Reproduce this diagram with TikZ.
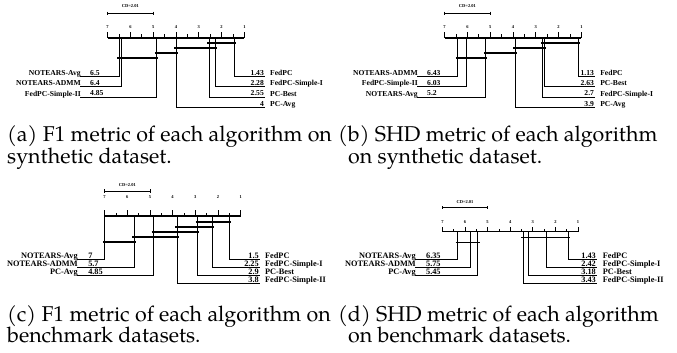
\documentclass[tikz,border=0pt]{standalone}
\usepackage{fontspec}
\newfontfamily\cdfont{Liberation Serif}
\newfontfamily\capfont{TeX Gyre Pagella}

\begin{document}
\begin{tikzpicture}[x=1pt,y=-1pt,
  axisln/.style={line width=1.1pt},
  tickln/.style={line width=0.7pt},
  clique/.style={line width=1.6pt},
  cdbar/.style={line width=1pt},
  leg/.style={line width=0.7pt},
  ticklab/.style={font=\cdfont\bfseries\fontsize{4.5}{5}\selectfont, inner sep=0pt},
  algo/.style={font=\cdfont\bfseries\fontsize{7.6}{8}\selectfont, inner sep=0pt},
  algob/.style={font=\cdfont\bfseries\fontsize{8.3}{9}\selectfont, inner sep=0pt},
  capline/.style={font=\capfont\fontsize{21.4}{22}\selectfont, inner sep=0pt, anchor=base west}]
\useasboundingbox (0,0) rectangle (677,353);

%(a) F1, synthetic
\begin{scope}[xshift=267.2pt, x=-22.8pt]
\draw[cdbar] (7,13.3) -- (4.99,13.3);
\draw[cdbar] (7,11.6) -- (7,15) (4.99,11.6) -- (4.99,15);
\node[ticklab] (a-cd) at (6,6.3) {CD=2.01};
\draw[axisln] (7,38) -- (1,38);
\draw[tickln] (7,38)--(7,32) (6,38)--(6,32) (5,38)--(5,32) (4,38)--(4,32) (3,38)--(3,32) (2,38)--(2,32) (1,38)--(1,32);
\draw[tickln] (6.5,38)--(6.5,34.5) (5.5,38)--(5.5,34.5) (4.5,38)--(4.5,34.5) (3.5,38)--(3.5,34.5) (2.5,38)--(2.5,34.5) (1.5,38)--(1.5,34.5);
\node[ticklab] (a-t7) at (7,26.7) {7};
\node[ticklab] (a-t6) at (6,26.7) {6};
\node[ticklab] (a-t5) at (5,26.7) {5};
\node[ticklab] (a-t4) at (4,26.7) {4};
\node[ticklab] (a-t3) at (3,26.7) {3};
\node[ticklab] (a-t2) at (2,26.7) {2};
\node[ticklab] (a-t1) at (1,26.7) {1};
% cliques
\draw[clique] (2.63,42.8) -- (1.35,42.8);
\draw[clique] (4.08,48.2) -- (2.20,48.2);
\draw[clique] (4.93,53) -- (3.92,53);
\draw[clique] (6.58,58.3) -- (4.77,58.3);
% left
\draw[leg] (6.5,38) |- (8.21,76.5);
\draw[leg] (6.4,38) |- (8.21,86.8);
\draw[leg] (4.85,38) |- (8.21,97);
\node[algo, anchor=base east] (a-l1) at (8.17,75.6) {NOTEARS-Avg};
\node[algo, anchor=base east] (a-l2) at (8.17,85.9) {NOTEARS-ADMM};
\node[algo, anchor=base east] (a-l3) at (8.17,96.1) {FedPC-Simple-II};
\node[algo, anchor=base west] (a-v1) at (7.77,75.3) {6.5};
\node[algo, anchor=base west] (a-v2) at (7.77,85.6) {6.4};
\node[algo, anchor=base west] (a-v3) at (7.77,95.8) {4.85};
% right
\draw[leg] (1.43,38) |- (0.1,76.5);
\draw[leg] (2.28,38) |- (0.1,86.8);
\draw[leg] (2.55,38) |- (0.1,97);
\draw[leg] (4,38) |- (0.1,107.3);
\node[algo, anchor=base east] (a-v4) at (0.14,75.3) {1.43};
\node[algo, anchor=base east] (a-v5) at (0.14,85.6) {2.28};
\node[algo, anchor=base east] (a-v6) at (0.14,95.8) {2.55};
\node[algo, anchor=base east] (a-v7) at (0.14,106.1) {4};
\node[algo, anchor=base west] (a-r1) at (-0.12,75.6) {FedPC};
\node[algo, anchor=base west] (a-r2) at (-0.12,85.9) {FedPC-Simple-I};
\node[algo, anchor=base west] (a-r3) at (-0.12,96.1) {PC-Best};
\node[algo, anchor=base west] (a-r4) at (-0.12,106.4) {PC-Avg};
\end{scope}

%(b) SHD, synthetic
\begin{scope}[xshift=604.2pt, x=-22.8pt]
\draw[cdbar] (7,13.3) -- (4.99,13.3);
\draw[cdbar] (7,11.6) -- (7,15) (4.99,11.6) -- (4.99,15);
\node[ticklab] (b-cd) at (6,6.3) {CD=2.01};
\draw[axisln] (7,38) -- (1,38);
\draw[tickln] (7,38)--(7,32) (6,38)--(6,32) (5,38)--(5,32) (4,38)--(4,32) (3,38)--(3,32) (2,38)--(2,32) (1,38)--(1,32);
\draw[tickln] (6.5,38)--(6.5,34.5) (5.5,38)--(5.5,34.5) (4.5,38)--(4.5,34.5) (3.5,38)--(3.5,34.5) (2.5,38)--(2.5,34.5) (1.5,38)--(1.5,34.5);
\node[ticklab] (b-t7) at (7,26.7) {7};
\node[ticklab] (b-t6) at (6,26.7) {6};
\node[ticklab] (b-t5) at (5,26.7) {5};
\node[ticklab] (b-t4) at (4,26.7) {4};
\node[ticklab] (b-t3) at (3,26.7) {3};
\node[ticklab] (b-t2) at (2,26.7) {2};
\node[ticklab] (b-t1) at (1,26.7) {1};
% cliques
\draw[clique] (2.78,42.8) -- (1.05,42.8);
\draw[clique] (3.98,48.2) -- (2.55,48.2);
\draw[clique] (5.28,53) -- (3.82,53);
\draw[clique] (6.51,58.3) -- (5.12,58.3);
% left
\draw[leg] (6.43,38) |- (8.21,76.5);
\draw[leg] (6.03,38) |- (8.21,86.8);
\draw[leg] (5.2,38) |- (8.21,97);
\node[algo, anchor=base east] (b-l1) at (8.17,75.6) {NOTEARS-ADMM};
\node[algo, anchor=base east] (b-l2) at (8.17,85.9) {FedPC-Simple-II};
\node[algo, anchor=base east] (b-l3) at (8.17,96.1) {NOTEARS-Avg};
\node[algo, anchor=base west] (b-v1) at (7.77,75.3) {6.43};
\node[algo, anchor=base west] (b-v2) at (7.77,85.6) {6.03};
\node[algo, anchor=base west] (b-v3) at (7.77,95.8) {5.2};
% right
\draw[leg] (1.13,38) |- (0.4,76.5);
\draw[leg] (2.63,38) |- (0.4,86.8);
\draw[leg] (2.7,38) |- (0.4,97);
\draw[leg] (3.9,38) |- (0.4,107.3);
\node[algo, anchor=base east] (b-v4) at (0.44,75.3) {1.13};
\node[algo, anchor=base east] (b-v5) at (0.44,85.6) {2.63};
\node[algo, anchor=base east] (b-v6) at (0.44,95.8) {2.7};
\node[algo, anchor=base east] (b-v7) at (0.44,106.1) {3.9};
\node[algo, anchor=base west] (b-r1) at (0.18,75.6) {FedPC};
\node[algo, anchor=base west] (b-r2) at (0.18,85.9) {PC-Best};
\node[algo, anchor=base west] (b-r3) at (0.18,96.1) {FedPC-Simple-I};
\node[algo, anchor=base west] (b-r4) at (0.18,106.4) {PC-Avg};
\end{scope}

%(c) F1, benchmark
\begin{scope}[xshift=263.3pt, x=-22.67pt]
\draw[cdbar] (7,191) -- (4.99,191);
\draw[cdbar] (7,189.3) -- (7,192.7) (4.99,189.3) -- (4.99,192.7);
\node[ticklab] (c-cd) at (6,185) {CD=2.01};
\draw[axisln] (7,216) -- (1,216);
\draw[tickln] (7,216)--(7,210) (6,216)--(6,210) (5,216)--(5,210) (4,216)--(4,210) (3,216)--(3,210) (2,216)--(2,210) (1,216)--(1,210);
\draw[tickln] (6.5,216)--(6.5,212.7) (5.5,216)--(5.5,212.7) (4.5,216)--(4.5,212.7) (3.5,216)--(3.5,212.7) (2.5,216)--(2.5,212.7) (1.5,216)--(1.5,212.7);
\node[ticklab] (c-t7) at (7,196.7) {7};
\node[ticklab] (c-t6) at (6,196.7) {6};
\node[ticklab] (c-t5) at (5,196.7) {5};
\node[ticklab] (c-t4) at (4,196.7) {4};
\node[ticklab] (c-t3) at (3,196.7) {3};
\node[ticklab] (c-t2) at (2,196.7) {2};
\node[ticklab] (c-t1) at (1,196.7) {1};
% cliques
\draw[clique] (2.98,221.7) -- (1.42,221.7);
\draw[clique] (3.88,226.7) -- (2.17,226.7);
\draw[clique] (4.93,231.7) -- (2.82,231.7);
\draw[clique] (5.78,236.7) -- (3.72,236.7);
\draw[clique] (7.08,241.7) -- (5.62,241.7);
% left
\draw[leg] (7,216) |- (8.22,259.5);
\draw[leg] (5.7,216) |- (8.22,267.5);
\draw[leg] (4.85,216) |- (8.22,275.4);
\node[algob, anchor=base east] (c-l1) at (8.18,258.6) {NOTEARS-Avg};
\node[algob, anchor=base east] (c-l2) at (8.18,266.6) {NOTEARS-ADMM};
\node[algob, anchor=base east] (c-l3) at (8.18,274.5) {PC-Avg};
\node[algob, anchor=base west] (c-v1) at (7.73,258.3) {7};
\node[algob, anchor=base west] (c-v2) at (7.73,266.3) {5.7};
\node[algob, anchor=base west] (c-v3) at (7.73,274.2) {4.85};
% right
\draw[leg] (1.5,216) |- (0.15,259.5);
\draw[leg] (2.25,216) |- (0.15,267.5);
\draw[leg] (2.9,216) |- (0.15,275.4);
\draw[leg] (3.8,216) |- (0.15,283.3);
\node[algob, anchor=base east] (c-v4) at (0.19,258.3) {1.5};
\node[algob, anchor=base east] (c-v5) at (0.19,266.3) {2.25};
\node[algob, anchor=base east] (c-v6) at (0.19,274.2) {2.9};
\node[algob, anchor=base east] (c-v7) at (0.19,282.1) {3.8};
\node[algob, anchor=base west] (c-r1) at (-0.07,258.6) {FedPC};
\node[algob, anchor=base west] (c-r2) at (-0.07,266.6) {FedPC-Simple-I};
\node[algob, anchor=base west] (c-r3) at (-0.07,274.5) {PC-Best};
\node[algob, anchor=base west] (c-r4) at (-0.07,282.4) {FedPC-Simple-II};
\end{scope}

%(d) SHD, benchmark
\begin{scope}[xshift=600.6pt, x=-22.6pt]
\draw[cdbar] (7,207.7) -- (4.99,207.7);
\draw[cdbar] (7,206) -- (7,209.4) (4.99,206) -- (4.99,209.4);
\node[ticklab] (d-cd) at (6,202) {CD=2.01};
\draw[axisln] (7,231.7) -- (1,231.7);
\draw[tickln] (7,231.7)--(7,226.7) (6,231.7)--(6,226.7) (5,231.7)--(5,226.7) (4,231.7)--(4,226.7) (3,231.7)--(3,226.7) (2,231.7)--(2,226.7) (1,231.7)--(1,226.7);
\draw[tickln] (6.5,231.7)--(6.5,229) (5.5,231.7)--(5.5,229) (4.5,231.7)--(4.5,229) (3.5,231.7)--(3.5,229) (2.5,231.7)--(2.5,229) (1.5,231.7)--(1.5,229);
\node[ticklab] (d-t7) at (7,222.3) {7};
\node[ticklab] (d-t6) at (6,222.3) {6};
\node[ticklab] (d-t5) at (5,222.3) {5};
\node[ticklab] (d-t4) at (4,222.3) {4};
\node[ticklab] (d-t3) at (3,222.3) {3};
\node[ticklab] (d-t2) at (2,222.3) {2};
\node[ticklab] (d-t1) at (1,222.3) {1};
% cliques
\draw[clique] (3.51,237.3) -- (1.34,237.3);
\draw[clique] (6.41,242.3) -- (5.33,242.3);
% left
\draw[leg] (6.35,231.7) |- (8.21,259.5);
\draw[leg] (5.75,231.7) |- (8.21,267.5);
\draw[leg] (5.45,231.7) |- (8.21,275.4);
\node[algob, anchor=base east] (d-l1) at (8.17,258.6) {NOTEARS-Avg};
\node[algob, anchor=base east] (d-l2) at (8.17,266.6) {NOTEARS-ADMM};
\node[algob, anchor=base east] (d-l3) at (8.17,274.5) {PC-Avg};
\node[algob, anchor=base west] (d-v1) at (7.73,258.3) {6.35};
\node[algob, anchor=base west] (d-v2) at (7.73,266.3) {5.75};
\node[algob, anchor=base west] (d-v3) at (7.73,274.2) {5.45};
% right
\draw[leg] (1.43,231.7) |- (0.16,259.5);
\draw[leg] (2.42,231.7) |- (0.16,267.5);
\draw[leg] (3.18,231.7) |- (0.16,275.4);
\draw[leg] (3.43,231.7) |- (0.16,283.3);
\node[algob, anchor=base east] (d-v4) at (0.2,258.3) {1.43};
\node[algob, anchor=base east] (d-v5) at (0.2,266.3) {2.42};
\node[algob, anchor=base east] (d-v6) at (0.2,274.2) {3.18};
\node[algob, anchor=base east] (d-v7) at (0.2,282.1) {3.43};
\node[algob, anchor=base west] (d-r1) at (-0.09,258.6) {FedPC};
\node[algob, anchor=base west] (d-r2) at (-0.09,266.6) {FedPC-Simple-I};
\node[algob, anchor=base west] (d-r3) at (-0.09,274.5) {PC-Best};
\node[algob, anchor=base west] (d-r4) at (-0.09,282.4) {FedPC-Simple-II};
\end{scope}

% captions
\node[capline] (cap-a1) at (7,141) {(a) F1 metric of each algorithm on};
\node[capline] (cap-a2) at (7,163) {synthetic dataset.};
\node[capline] (cap-b1) at (338,141) {(b) SHD metric of each algorithm};
\node[capline] (cap-b2) at (348,163) {on synthetic dataset.};
\node[capline] (cap-c1) at (7,321) {(c) F1 metric of each algorithm on};
\node[capline] (cap-c2) at (7,342) {benchmark datasets.};
\node[capline] (cap-d1) at (338,321) {(d) SHD metric of each algorithm};
\node[capline] (cap-d2) at (348,342) {on benchmark datasets.};
\end{tikzpicture}
\end{document}
